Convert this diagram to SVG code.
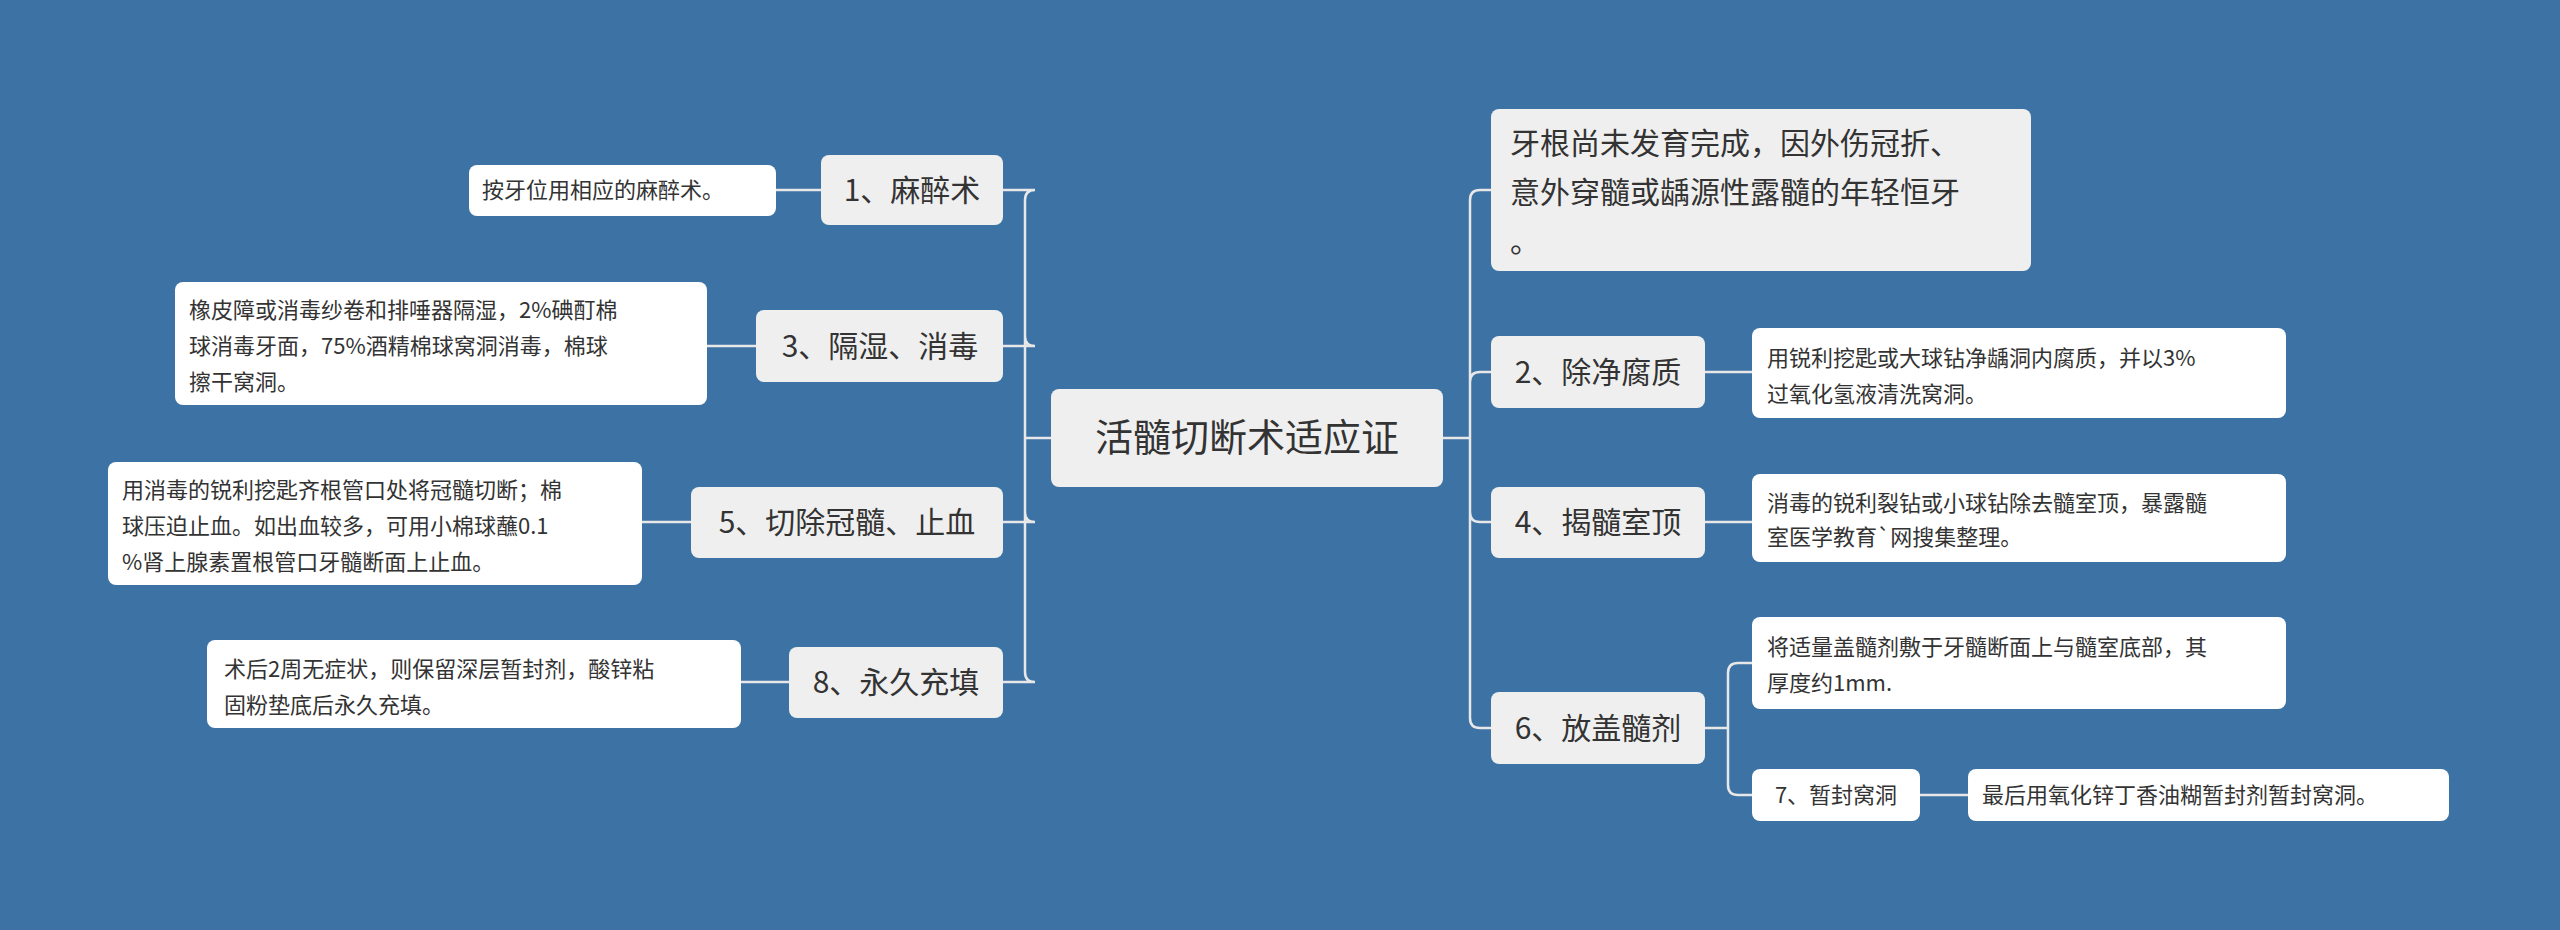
<svg xmlns="http://www.w3.org/2000/svg" width="2560" height="930" viewBox="0 0 2560 930">
<style>
text{font-family:"Noto Sans CJK SC","Noto Sans",sans-serif;fill:#333}
.n{fill:#efefef}
.t{fill:#fff}
.big{font-size:30px}
.sm{font-size:22px}
.c{fill:none;stroke:#e8e8e8;stroke-width:2.5}
</style>
<rect width="2560" height="930" fill="#3d72a4"/>
<g id="connectors">
<path class="c" d="M1051 438H1025V200Q1025 190 1035 190H1003M1025 438V336Q1025 346 1035 346H1003M1025 438V512Q1025 522 1035 522H1003M1025 438V672Q1025 682 1035 682H1003"/>
<path class="c" d="M821 190H776M756 346H707M691 522H642M789 682H741"/>
<path class="c" d="M1443 438H1470V200Q1470 190 1480 190H1491M1470 438V382Q1470 372 1480 372H1491M1470 438V512Q1470 522 1480 522H1491M1470 438V718Q1470 728 1480 728H1491"/>
<path class="c" d="M1705 372H1752M1705 522H1752M1705 728H1728V673Q1728 663 1738 663H1752M1728 728V785Q1728 795 1738 795H1752M1920 795H1968"/>
</g>
<g id="center"><rect class="n" x="1051" y="389" width="392" height="98" rx="8"/><text x="1247" y="451" font-size="38" text-anchor="middle">活髓切断术适应证</text></g>
<g id="n1"><rect class="n" x="821" y="155" width="182" height="70" rx="8"/><text class="big" x="912" y="201" text-anchor="middle">1、麻醉术</text></g>
<g id="t1"><rect class="t" x="469" y="165" width="307" height="51" rx="8"/><text class="sm" x="482" y="198">按牙位用相应的麻醉术。</text></g>
<g id="n3"><rect class="n" x="756" y="310" width="247" height="72" rx="8"/><text class="big" x="880" y="357" text-anchor="middle">3、隔湿、消毒</text></g>
<g id="t3"><rect class="t" x="175" y="282" width="532" height="123" rx="8"/><text class="sm"><tspan x="189" y="318">橡皮障或消毒纱卷和排唾器隔湿，2%碘酊棉</tspan><tspan x="189" y="354">球消毒牙面，75%酒精棉球窝洞消毒，棉球</tspan><tspan x="189" y="390">擦干窝洞。</tspan></text></g>
<g id="n5"><rect class="n" x="691" y="487" width="312" height="71" rx="8"/><text class="big" x="847" y="533" text-anchor="middle">5、切除冠髓、止血</text></g>
<g id="t5"><rect class="t" x="108" y="462" width="534" height="123" rx="8"/><text class="sm"><tspan x="122" y="498">用消毒的锐利挖匙齐根管口处将冠髓切断；棉</tspan><tspan x="122" y="534">球压迫止血。如出血较多，可用小棉球蘸0.1</tspan><tspan x="122" y="570">%肾上腺素置根管口牙髓断面上止血。</tspan></text></g>
<g id="n8"><rect class="n" x="789" y="647" width="214" height="71" rx="8"/><text class="big" x="896" y="693" text-anchor="middle">8、永久充填</text></g>
<g id="t8"><rect class="t" x="207" y="640" width="534" height="88" rx="8"/><text class="sm"><tspan x="224" y="677">术后2周无症状，则保留深层暂封剂，酸锌粘</tspan><tspan x="224" y="713">固粉垫底后永久充填。</tspan></text></g>
<g id="ntop"><rect class="n" x="1491" y="109" width="540" height="162" rx="8"/><text class="big"><tspan x="1510" y="154">牙根尚未发育完成，因外伤冠折、</tspan><tspan x="1510" y="203">意外穿髓或龋源性露髓的年轻恒牙</tspan><tspan x="1510" y="252">。</tspan></text></g>
<g id="n2"><rect class="n" x="1491" y="336" width="214" height="72" rx="8"/><text class="big" x="1598" y="383" text-anchor="middle">2、除净腐质</text></g>
<g id="t2"><rect class="t" x="1752" y="328" width="534" height="90" rx="8"/><text class="sm"><tspan x="1767" y="366">用锐利挖匙或大球钻净龋洞内腐质，并以3%</tspan><tspan x="1767" y="402">过氧化氢液清洗窝洞。</tspan></text></g>
<g id="n4"><rect class="n" x="1491" y="487" width="214" height="71" rx="8"/><text class="big" x="1598" y="533" text-anchor="middle">4、揭髓室顶</text></g>
<g id="t4"><rect class="t" x="1752" y="474" width="534" height="88" rx="8"/><text class="sm"><tspan x="1767" y="511">消毒的锐利裂钻或小球钻除去髓室顶，暴露髓</tspan><tspan x="1767" y="545">室医学教育`网搜集整理。</tspan></text></g>
<g id="n6"><rect class="n" x="1491" y="692" width="214" height="72" rx="8"/><text class="big" x="1598" y="739" text-anchor="middle">6、放盖髓剂</text></g>
<g id="t6"><rect class="t" x="1752" y="617" width="534" height="92" rx="8"/><text class="sm"><tspan x="1767" y="655">将适量盖髓剂敷于牙髓断面上与髓室底部，其</tspan><tspan x="1767" y="691">厚度约1mm.</tspan></text></g>
<g id="n7"><rect class="t" x="1752" y="769" width="168" height="52" rx="8"/><text class="sm" x="1836" y="803" text-anchor="middle">7、暂封窝洞</text></g>
<g id="t7"><rect class="t" x="1968" y="769" width="481" height="52" rx="8"/><text class="sm" x="1982" y="803">最后用氧化锌丁香油糊暂封剂暂封窝洞。</text></g>
</svg>
